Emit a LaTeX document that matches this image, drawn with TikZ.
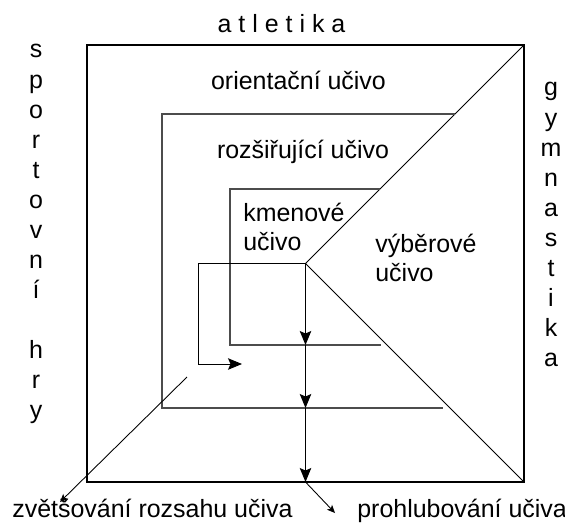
\documentclass[tikz,border=0pt]{standalone}
\usepackage{fontspec}
\setmainfont{Liberation Sans}
\usepackage{tikz}
\usetikzlibrary{calc,arrows.meta,positioning}
\tikzset{
myFrame/.style={
	draw=black,line width=1pt
}
, myBox/.style={
	draw=black!70,line width=0.6pt
}
, myDiag/.style={
	draw=black,line width=0.5pt
}
% text
, myText/.style={
	inner sep=0pt,anchor=base,text=black
}
% links
, myDown/.style={-{Stealth[length=2.8mm,width=2.3mm,inset=0.5mm]},line width=0.6pt}
, mySmall/.style={-{Stealth[length=1.6mm,width=1.4mm,inset=0.4mm]},line width=0.5pt}
}

\begin{document}
\begin{tikzpicture}[font=\fontsize{14.2}{17}\selectfont]
	\useasboundingbox (0,0) rectangle (11.3,10.5);
	% corners and centre
	\coordinate (SW) at (1.74,0.86);
	\coordinate (SE) at (10.48,0.86);
	\coordinate (NE) at (10.48,9.60);
	\coordinate (C) at (6.11,5.23);
	% outer frame and diagonals
	\draw[myFrame] (SW) rectangle (NE);
	\draw[myDiag] (NE) -- (C) -- (SE);
	% middle and inner frames
	\draw[myBox] (9.10,8.22) -- (3.24,8.22) -- (3.24,2.34) -- (8.86,2.34);
	\draw[myBox] (7.60,6.72) -- (4.60,6.72) -- (4.60,3.60) -- (7.62,3.60);

	% nodes
	\node[myText] (Orient) at (5.97,8.72) {orientační učivo};
	\node[myText] (Rozsir) at (6.06,7.34) {rozšiřující učivo};
	\node[myText,anchor=base west] (KmenA) at (4.86,6.08) {kmenové};
	\node[myText,anchor=base west] (KmenB) at (4.86,5.50) {učivo};
	\node[myText,anchor=base west] (VyberA) at (7.50,5.46) {výběrové};
	\node[myText,anchor=base west] (VyberB) at (7.50,4.88) {učivo};
	\node[myText] (Atl) at (5.63,9.84) {a t l e t i k a};
	\node[myText,anchor=base west] (Zvet) at (0.24,0.16) {zvětšování rozsahu učiva};
	\node[myText,anchor=base west] (Prohl) at (7.14,0.16) {prohlubování učiva};
	% side columns
	\foreach \i/\ch in {0/s,1/p,2/o,3/r,4/t,5/o,6/v,7/n,8/í,10/h,11/r,12/y}
		\node[myText] (Sp\i) at (0.72,9.34-0.6*\i) {\ch};
	\foreach \i/\ch in {0/g,1/y,2/m,3/n,4/a,5/s,6/t,7/i,8/k,9/a}
		\node[myText] (Gy\i) at (11.02,8.58-0.6*\i) {\ch};

	% links
	\coordinate (K) at (6.11,3.60);
	\coordinate (R) at (6.11,2.34);
	\coordinate (O) at (6.11,0.86);
	\draw[myDown] (C) -- (K);
	\draw[myDown] (K) -- (R);
	\draw[myDown] (R) -- (O);
	\draw[myDown,line width=0.5pt] (C) -| (3.96,3.22) -- (4.84,3.22);
	\coordinate (Z) at (3.74,2.96);
	\coordinate (ZEnd) at (1.20,0.46);
	\coordinate (PEnd) at (6.70,0.24);
	\draw[mySmall] (Z) -- (ZEnd);
	\draw[mySmall] (O) -- (PEnd);
\end{tikzpicture}
\end{document}
